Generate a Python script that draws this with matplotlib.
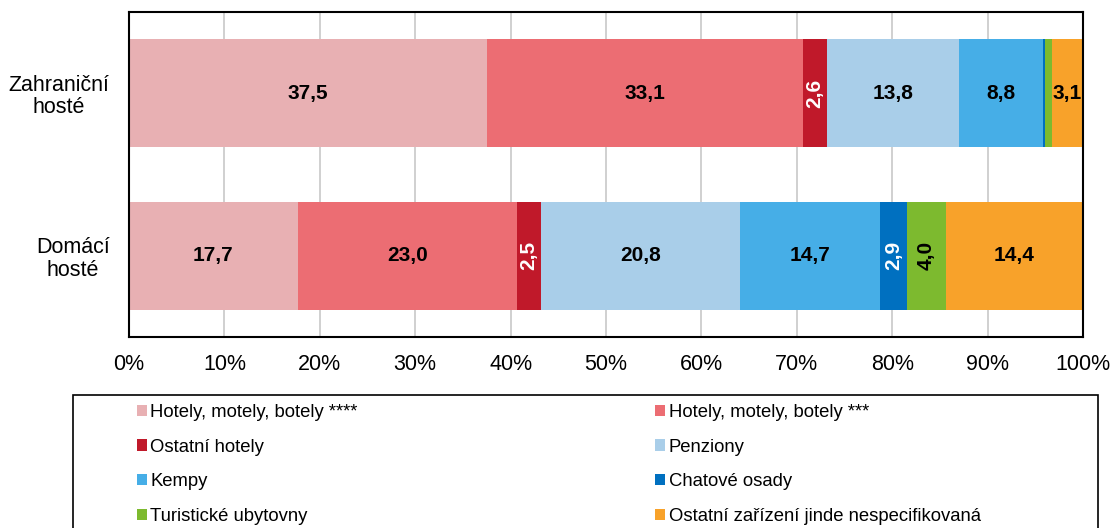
import matplotlib
matplotlib.use("Agg")
import matplotlib.pyplot as plt
from matplotlib.patches import Rectangle
import numpy as np

plt.rcParams['font.family'] = ['Liberation Sans', 'DejaVu Sans']

categories = ["Zahraniční\nhosté", "Domácí\nhosté"]
series_names = [
    "Hotely, motely, botely ****",
    "Hotely, motely, botely ***",
    "Ostatní hotely",
    "Penziony",
    "Kempy",
    "Chatové osady",
    "Turistické ubytovny",
    "Ostatní zařízení jinde nespecifikovaná",
]
hotely4 = [37.5, 17.7]
hotely3 = [33.1, 23.0]
ostatni_hotely = [2.6, 2.5]
penziony = [13.8, 20.8]
kempy = [8.8, 14.7]
chatove = [0.2, 2.9]
turisticke = [0.8, 4.0]
ostatni = [3.1, 14.4]
series = [hotely4, hotely3, ostatni_hotely, penziony, kempy, chatove, turisticke, ostatni]

colors = ["#E8B0B3", "#EC6D73", "#C0192A", "#A9CEE9", "#46AEE7", "#0070C0", "#7DBA2F", "#F8A22A"]
label_colors = ["black", "black", "white", "black", "black", "white", "black", "black"]
rotated = [False, False, True, False, False, True, True, False]
min_label = 1.5

fig = plt.figure(figsize=(11.12, 5.28), dpi=100)
ax = fig.add_axes([129/1112, 1-337/528, (1083-129)/1112, (337-12)/528])

y = np.arange(len(categories))
left = np.zeros(len(categories))
handles = []
for name, vals, col, lc, rot in zip(series_names, series, colors, label_colors, rotated):
    vals = np.array(vals)
    bars = ax.barh(y, vals, left=left, height=0.667, color=col, label=name, zorder=2)
    handles.append(bars)
    for yi, (l, v) in enumerate(zip(left, vals)):
        if v >= min_label:
            ax.text(l + v/2, yi, f"{v:.1f}".replace(".", ","), ha="center", va="center",
                    fontsize=15, fontweight="bold", color=lc,
                    rotation=90 if rot else 0, zorder=3)
    left = left + vals

ax.set_xlim(0, 100)
ax.set_ylim(1.5, -0.5)
ax.set_yticks(y)
ax.set_yticklabels(categories, fontsize=15.5, linespacing=1.1, multialignment="center")
ax.set_xticks(np.arange(0, 101, 10))
ax.set_xticklabels([f"{t}%" for t in range(0, 101, 10)], fontsize=15.5)
ax.tick_params(length=0)
ax.tick_params(axis='x', pad=12)
ax.tick_params(axis='y', pad=14)
ax.xaxis.grid(True, color="#C8C8C8", linewidth=1.2, zorder=0)
ax.set_axisbelow(True)
for s in ax.spines.values():
    s.set_linewidth(1.5)
    s.set_color("black")

# legend frame
fig.patches.append(Rectangle((73/1112, -0.02), (1098-73)/1112, (528-395)/528 + 0.02,
                             transform=fig.transFigure, fill=False, edgecolor="black",
                             linewidth=1.2))
order = [0, 2, 4, 6, 1, 3, 5, 7]
leg = fig.legend(handles=[handles[i] for i in order], labels=[series_names[i] for i in order],
                 ncol=2, loc="upper left", bbox_to_anchor=(137/1112, 1-404/528),
                 frameon=False, fontsize=13.3, handlelength=0.55, handleheight=0.55,
                 handletextpad=0.18, labelspacing=0.95, columnspacing=16.1,
                 borderpad=0.0, borderaxespad=0.0)

fig.savefig("out.png", dpi=100)
